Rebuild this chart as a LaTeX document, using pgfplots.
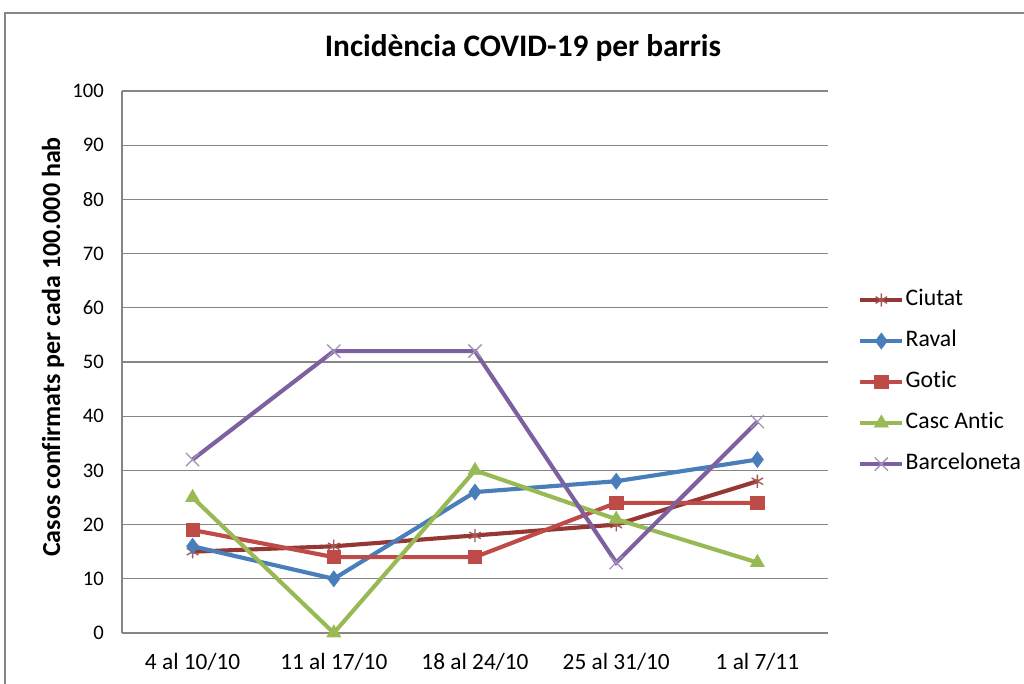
\documentclass[border=0pt]{standalone}
\usepackage{fontspec}
\setmainfont{Carlito}[Ligatures=NoCommon]
\usepackage{pgfplots}
\pgfplotsset{compat=1.18}
\definecolor{cCiutat}{HTML}{953735}
\definecolor{cRaval}{HTML}{4A7EBB}
\definecolor{cGotic}{HTML}{BE4B48}
\definecolor{cCasc}{HTML}{98B954}
\definecolor{cBarc}{HTML}{7D60A0}
\definecolor{gridc}{HTML}{868686}
\begin{document}
\begin{tikzpicture}[x=0.75pt,y=0.75pt]
\useasboundingbox (0,0) rectangle (1024,684);
\draw[gridc, line width=1pt] (5,0) -- (5,671) -- (1024,671);
\node[font=\bfseries\fontsize{23.5}{28}\selectfont] at (523,636) {Incidència COVID-19 per barris};
\node[font=\bfseries\fontsize{19.5}{23}\selectfont, rotate=90] at (53,337) {Casos confirmats per cada 100.000 hab};
\begin{axis}[
  at={(91.5pt,38.25pt)}, anchor=south west,
  scale only axis, width=529.5pt, height=406.5pt,
  xmin=-0.5, xmax=4.5, ymin=0, ymax=100,
  axis lines*=left,
  axis line style={gridc, line width=0.9pt},
  xtick={0,1,2,3,4},
  xticklabels={4 al 10/10, 11 al 17/10, 18 al 24/10, 25 al 31/10, 1 al 7/11},
  major x tick style={draw=none},
  extra x ticks={0.5,1.5,2.5,3.5,4.5},
  extra x tick labels={},
  extra x tick style={major tick length=6pt, tick style={gridc, line width=0.9pt}, tick align=inside},
  ytick={0,10,...,100},
  major y tick style={draw=none},
  ymajorgrids, grid style={gridc, line width=0.9pt},
  tick label style={/pgf/number format/assume math mode=true},
  yticklabel style={font=\fontsize{15.5}{18}\selectfont, anchor=east, inner sep=0pt, xshift=-13.5pt},
  xticklabel style={font=\fontsize{17.5}{20}\selectfont, anchor=center, inner sep=0pt, yshift=-21.5pt},
  legend cell align=left,
  legend style={at={(1.0425,0.463)}, anchor=west, draw=none, fill=none, inner sep=0pt,
    font=\fontsize{17.8}{21}\selectfont, row sep=15.25pt,
    nodes={inner xsep=1pt, inner ysep=0pt, text height=12pt, text depth=3.5pt}},
  legend image code/.code={
    \draw[#1, mark=none] (0pt,0pt) -- (31.5pt,0pt);
    \draw[#1, only marks] plot coordinates {(15.75pt,0pt)};
  },
  every axis plot/.append style={line width=3.1pt},
  clip=false,
]
\addplot[cCiutat, mark=asterisk, mark size=5pt, mark options={line width=1pt, draw=cCiutat!85!white}] coordinates {(0,15) (1,16) (2,18) (3,20) (4,28)};
\addlegendentry{Ciutat}
\addplot[cRaval, mark=diamond*, mark size=6pt, mark options={line width=0.5pt}] coordinates {(0,16) (1,10) (2,26) (3,28) (4,32)};
\addlegendentry{Raval}
\addplot[cGotic, mark=square*, mark size=5pt, mark options={line width=0.5pt}] coordinates {(0,19) (1,14) (2,14) (3,24) (4,24)};
\addlegendentry{Gotic}
\addplot[cCasc, mark=triangle*, mark size=6pt, mark options={line width=0.5pt}] coordinates {(0,25) (1,0) (2,30) (3,21) (4,13)};
\addlegendentry{Casc Antic}
\addplot[cBarc, mark=x, mark size=7pt, mark options={line width=1pt, draw=cBarc!70!white}] coordinates {(0,32) (1,52) (2,52) (3,13) (4,39)};
\addlegendentry{Barceloneta}
\end{axis}
\end{tikzpicture}
\end{document}
